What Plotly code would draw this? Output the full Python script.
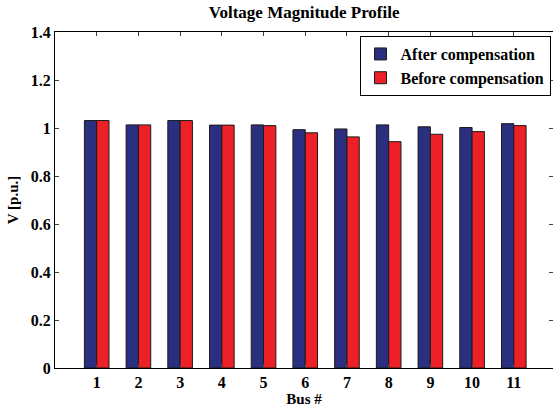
import plotly.graph_objects as go

buses = [1, 2, 3, 4, 5, 6, 7, 8, 9, 10, 11]
after_comp = [1.031, 1.013, 1.031, 1.012, 1.013, 0.993, 0.996, 1.013, 1.005, 1.002, 1.018]
before_comp = [1.031, 1.013, 1.031, 1.012, 1.010, 0.980, 0.963, 0.943, 0.974, 0.985, 1.010]
y_ticks = [0, 0.2, 0.4, 0.6, 0.8, 1.0, 1.2, 1.4]
y_tick_text = ["0", "0.2", "0.4", "0.6", "0.8", "1", "1.2", "1.4"]

FONT = "'Liberation Serif', 'Times New Roman', Times, serif"

fig = go.Figure()
fig.add_trace(go.Bar(x=buses, y=after_comp, name="<b>After compensation</b>",
                     marker=dict(color="#2B2F7F", line=dict(color="#1a1a1a", width=1))))
fig.add_trace(go.Bar(x=buses, y=before_comp, name="<b>Before compensation</b>",
                     marker=dict(color="#EE2027", line=dict(color="#1a1a1a", width=1))))

fig.update_layout(
    width=553, height=408,
    margin=dict(l=55, r=0, t=32, b=40, autoexpand=False),
    paper_bgcolor="white", plot_bgcolor="white",
    font=dict(family=FONT, size=16, color="black"),
    barmode="group", bargap=0.41, bargroupgap=0,
    title=dict(text="<b>Voltage Magnitude Profile</b>", x=0.55, xanchor="center",
               y=0.97, yanchor="middle", yref="container",
               font=dict(family=FONT, size=17)),
    legend=dict(x=0.995, xanchor="right", y=0.988, yanchor="top",
                bordercolor="black", borderwidth=1, bgcolor="white",
                font=dict(family=FONT, size=16),
                tracegroupgap=0, itemwidth=30),
    showlegend=True,
)
fig.update_xaxes(range=[0, 11.94], tickvals=buses, ticktext=["<b>%d</b>" % b for b in buses],
                 ticks="inside", ticklen=4, automargin=False,
                 showline=True, linecolor="black", linewidth=1, mirror="ticks",
                 showgrid=False, zeroline=False,
                 title=dict(text="<b>Bus #</b>", standoff=0, font=dict(family=FONT, size=15)),
                 tickfont=dict(family=FONT, size=16))
fig.update_yaxes(range=[0, 1.4], tickvals=y_ticks, ticktext=["<b>%s</b>" % t for t in y_tick_text],
                 ticks="inside", ticklen=4, automargin=False,
                 showline=True, linecolor="black", linewidth=1, mirror="ticks",
                 showgrid=False, zeroline=False,
                 title=dict(text="<b>V [p.u.]</b>", standoff=8, font=dict(family=FONT, size=15)),
                 tickfont=dict(family=FONT, size=16))

fig.write_html("out.html", config={"displayModeBar": False},
               post_script="document.body.style.margin='0';document.body.style.overflow='hidden';")
